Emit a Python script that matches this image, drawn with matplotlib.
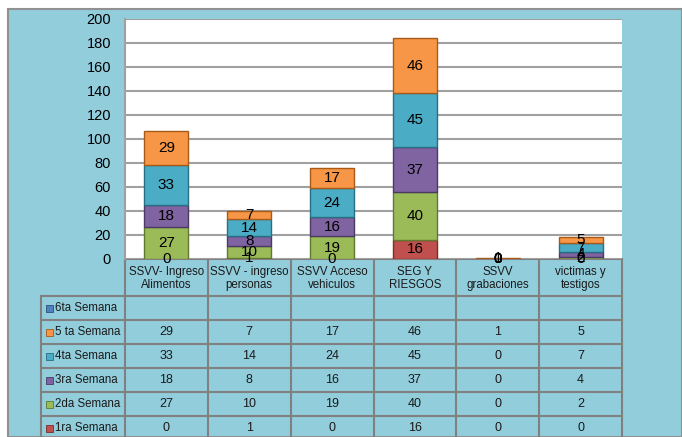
import matplotlib.pyplot as plt
import matplotlib.transforms as mtransforms
from matplotlib.patches import Rectangle
import numpy as np

plt.rcParams['font.family'] = ['Liberation Sans', 'DejaVu Sans']

categories = ["SSVV- Ingreso\nAlimentos", "SSVV - ingreso\npersonas", "SSVV Acceso\nvehiculos",
              "SEG Y\nRIESGOS", "SSVV\ngrabaciones", "victimas y\ntestigos"]
series_names = ["1ra Semana", "2da Semana", "3ra Semana", "4ta Semana", "5 ta Semana", "6ta Semana"]
sem1 = [0, 1, 0, 16, 0, 0]
sem2 = [27, 10, 19, 40, 0, 2]
sem3 = [18, 8, 16, 37, 0, 4]
sem4 = [33, 14, 24, 45, 0, 7]
sem5 = [29, 7, 17, 46, 1, 5]
sem6 = [None, None, None, None, None, None]
yticks = [0, 20, 40, 60, 80, 100, 120, 140, 160, 180, 200]

series = [sem1, sem2, sem3, sem4, sem5, sem6]
colors = ["#C0504D", "#9BBB59", "#8064A2", "#4BACC6", "#F79646", "#4F81BD"]
edges = ["#7a2d2b", "#5f7a2e", "#4c3a66", "#276f82", "#a85a18", "#2c4f7c"]

W, H = 682, 437
blue = "#92CDDC"
grid_c = "#A0A0A0"

fig = plt.figure(figsize=(W / 100, H / 100), dpi=100, facecolor="white")

# background axes in pixel coords
bg = fig.add_axes([0, 0, 1, 1])
bg.set_xlim(0, W)
bg.set_ylim(H, 0)
bg.axis("off")
bg.add_patch(Rectangle((8, 9), W - 8, H - 9, facecolor=blue, edgecolor="#909090", lw=1.5))

# plot area
x0, x1, ytop, ybot = 125, 622, 19, 259
ax = fig.add_axes([x0 / W, (H - ybot) / H, (x1 - x0) / W, (ybot - ytop) / H])
ax.set_facecolor("white")
ax.set_xlim(-0.5, len(categories) - 0.5)
ax.set_ylim(0, 200)
ax.set_yticks(yticks)
ax.set_yticklabels([str(t) for t in yticks], fontsize=10.5)
ax.tick_params(axis="y", length=0, pad=10)
ax.set_xticks([])
for s in ["top", "right", "bottom"]:
    ax.spines[s].set_visible(False)
ax.spines["left"].set_color(grid_c)
ax.spines["left"].set_linewidth(1.5)
ax.yaxis.grid(True, color=grid_c, lw=1.5)
ax.set_axisbelow(True)

x = np.arange(len(categories))
bottom = np.zeros(len(categories))
for vals, c, ec in zip(series[:5], colors[:5], edges[:5]):
    v = np.array(vals, dtype=float)
    ax.bar(x, v, 0.53, bottom=bottom, color=c, edgecolor=ec, lw=1.0, zorder=3)
    for xi, b, vi in zip(x, bottom, v):
        ax.text(xi, b + vi / 2, f"{int(vi)}", ha="center", va="center", fontsize=11, zorder=4)
    bottom += v

# data table
tr = mtransforms.blended_transform_factory(ax.transData, bg.transData)
lc = "#808080"
head_bot = 296
row_h = 24
col_edges = np.arange(len(categories) + 1) - 0.5
# header row
for ce in col_edges:
    bg.plot([ce, ce], [ybot, H], transform=tr, color=lc, lw=1.5, clip_on=False)
bg.plot([x0, x1], [ybot, ybot], color=lc, lw=1.5)
for xi, cat in zip(x, categories):
    bg.text(xi, (ybot + head_bot) / 2 + 1, cat, transform=tr, ha="center", va="center",
            fontsize=8.3, linespacing=1.2, color="#1a1a1a")
# left label column
bg.plot([41, 41], [head_bot, H], color=lc, lw=1.5)
rows = list(range(5, -1, -1))
for k in range(len(rows) + 1):
    yy = head_bot + k * row_h
    if yy <= H:
        bg.plot([41, x1], [yy, yy], color=lc, lw=1.5)
for k, si in enumerate(rows):
    yc = head_bot + k * row_h + row_h / 2
    bg.add_patch(Rectangle((46, yc - 3.5), 7, 7, facecolor=colors[si], edgecolor=edges[si], lw=0.6))
    bg.text(55, yc, series_names[si], ha="left", va="center", fontsize=8.3, color="#1a1a1a")
    for xi, vi in zip(x, series[si]):
        if vi is not None:
            bg.text(xi, yc, str(vi), transform=tr, ha="center", va="center",
                    fontsize=9, color="#1a1a1a")

fig.savefig("out.png", dpi=100, facecolor=fig.get_facecolor())
